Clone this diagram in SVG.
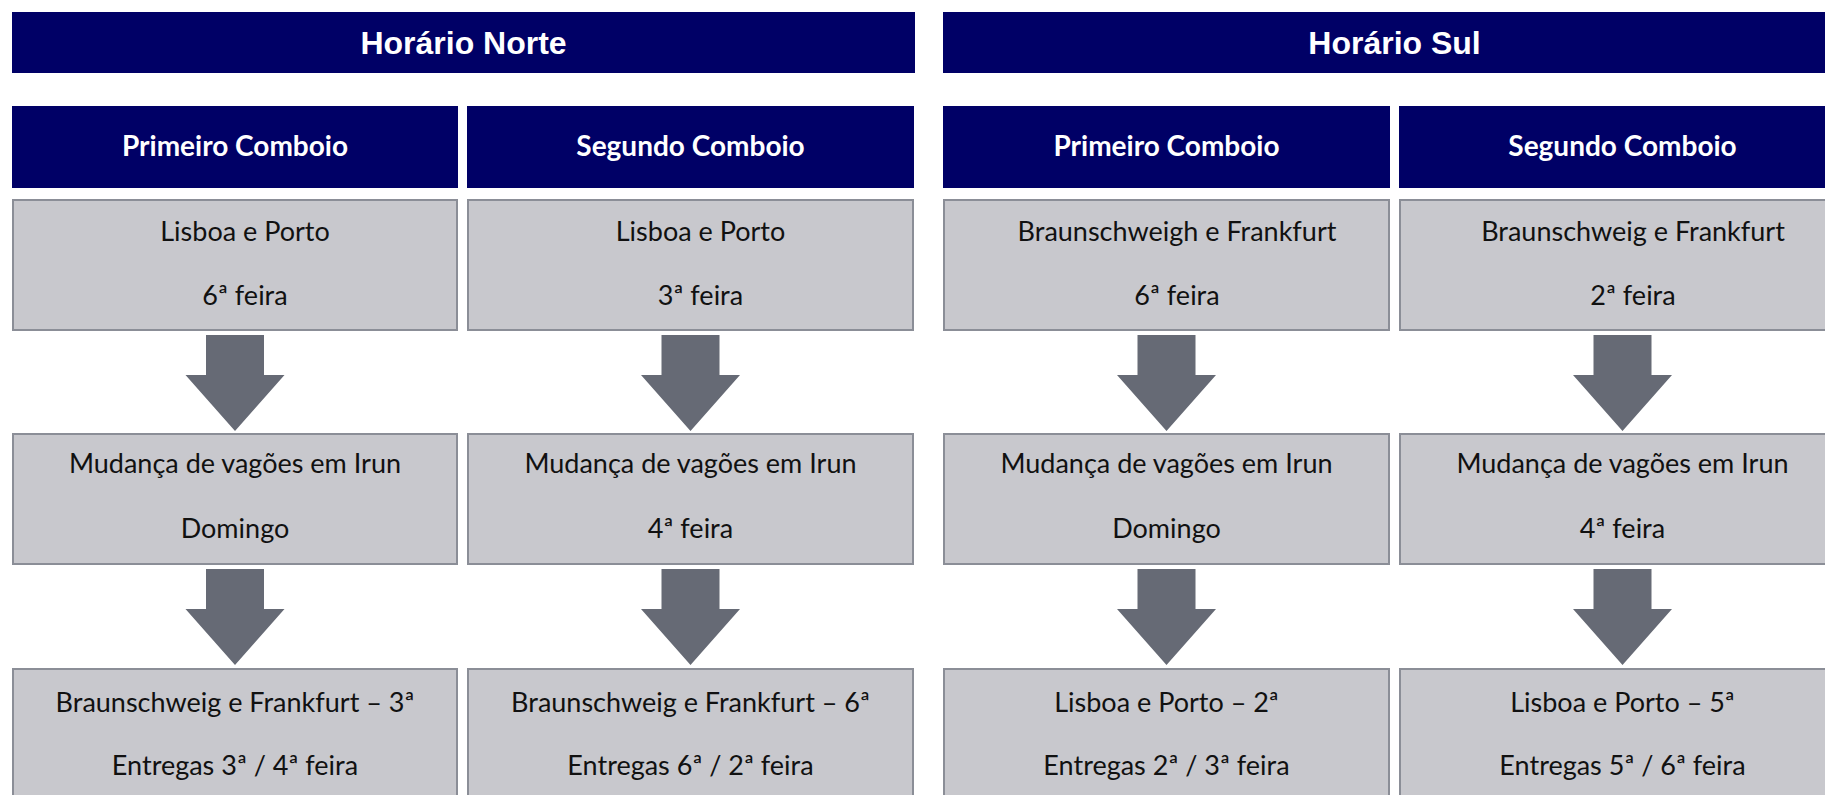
<svg xmlns="http://www.w3.org/2000/svg" width="1825" height="795" viewBox="0 0 1825 795">
<style>
.bar{fill:#000066}
.title{font-family:"Liberation Sans",Arial,sans-serif;font-weight:bold;font-size:32px;fill:#ffffff;text-anchor:middle}
.hdr{font-family:Lato,"Noto Sans",sans-serif;font-weight:bold;font-size:28px;fill:#ffffff;text-anchor:middle}
.box{fill:#c8c8cd;stroke:#8b8e97;stroke-width:2}
.txt{font-family:Lato,"Noto Sans",sans-serif;font-size:27px;fill:#111111;text-anchor:middle}
.arr{fill:#666a75}
</style>
<rect width="1825" height="795" fill="#ffffff"/>
<g id="title-norte"><rect class="bar" x="12" y="12" width="903" height="61"/><text class="title" x="463.5" y="54">Horário Norte</text></g>
<g id="title-sul"><rect class="bar" x="943" y="12" width="903" height="61"/><text class="title" x="1394.5" y="54">Horário Sul</text></g>

<g id="hdr-n1"><rect class="bar" x="12" y="106" width="446" height="82"/><text class="hdr" x="235" y="156">Primeiro Comboio</text></g>
<g id="hdr-n2"><rect class="bar" x="467" y="106" width="447" height="82"/><text class="hdr" x="690.5" y="156">Segundo Comboio</text></g>
<g id="hdr-s1"><rect class="bar" x="943" y="106" width="447" height="82"/><text class="hdr" x="1166.5" y="156">Primeiro Comboio</text></g>
<g id="hdr-s2"><rect class="bar" x="1399" y="106" width="447" height="82"/><text class="hdr" x="1622.5" y="156">Segundo Comboio</text></g>

<g id="n1-a"><rect class="box" x="13" y="200" width="444" height="130"/><text class="txt" x="245" y="241">Lisboa e Porto</text><text class="txt" x="245" y="305">6ª feira</text></g>
<g id="n1-b"><rect class="box" x="13" y="434" width="444" height="130"/><text class="txt" x="235" y="473">Mudança de vagões em Irun</text><text class="txt" x="235" y="538">Domingo</text></g>
<g id="n1-c"><rect class="box" x="13" y="669" width="444" height="130"/><text class="txt" x="235" y="712">Braunschweig e Frankfurt – 3ª</text><text class="txt" x="235" y="775">Entregas 3ª / 4ª feira</text></g>

<g id="n2-a"><rect class="box" x="468" y="200" width="445" height="130"/><text class="txt" x="700.5" y="241">Lisboa e Porto</text><text class="txt" x="700.5" y="305">3ª feira</text></g>
<g id="n2-b"><rect class="box" x="468" y="434" width="445" height="130"/><text class="txt" x="690.5" y="473">Mudança de vagões em Irun</text><text class="txt" x="690.5" y="538">4ª feira</text></g>
<g id="n2-c"><rect class="box" x="468" y="669" width="445" height="130"/><text class="txt" x="690.5" y="712">Braunschweig e Frankfurt – 6ª</text><text class="txt" x="690.5" y="775">Entregas 6ª / 2ª feira</text></g>

<g id="s1-a"><rect class="box" x="944" y="200" width="445" height="130"/><text class="txt" x="1177" y="241">Braunschweigh e Frankfurt</text><text class="txt" x="1177" y="305">6ª feira</text></g>
<g id="s1-b"><rect class="box" x="944" y="434" width="445" height="130"/><text class="txt" x="1166.5" y="473">Mudança de vagões em Irun</text><text class="txt" x="1166.5" y="538">Domingo</text></g>
<g id="s1-c"><rect class="box" x="944" y="669" width="445" height="130"/><text class="txt" x="1166.5" y="712">Lisboa e Porto – 2ª</text><text class="txt" x="1166.5" y="775">Entregas 2ª / 3ª feira</text></g>

<g id="s2-a"><rect class="box" x="1400" y="200" width="445" height="130"/><text class="txt" x="1633" y="241">Braunschweig e Frankfurt</text><text class="txt" x="1633" y="305">2ª feira</text></g>
<g id="s2-b"><rect class="box" x="1400" y="434" width="445" height="130"/><text class="txt" x="1622.5" y="473">Mudança de vagões em Irun</text><text class="txt" x="1622.5" y="538">4ª feira</text></g>
<g id="s2-c"><rect class="box" x="1400" y="669" width="445" height="130"/><text class="txt" x="1622.5" y="712">Lisboa e Porto – 5ª</text><text class="txt" x="1622.5" y="775">Entregas 5ª / 6ª feira</text></g>

<g id="connectors">
<polygon class="arr" points="206,335 264,335 264,375 284.5,375 235,431 185.5,375 206,375"/>
<polygon class="arr" points="206,569 264,569 264,609 284.5,609 235,665 185.5,609 206,609"/>
<polygon class="arr" points="661.5,335 719.5,335 719.5,375 740,375 690.5,431 641,375 661.5,375"/>
<polygon class="arr" points="661.5,569 719.5,569 719.5,609 740,609 690.5,665 641,609 661.5,609"/>
<polygon class="arr" points="1137.5,335 1195.5,335 1195.5,375 1216,375 1166.5,431 1117,375 1137.5,375"/>
<polygon class="arr" points="1137.5,569 1195.5,569 1195.5,609 1216,609 1166.5,665 1117,609 1137.5,609"/>
<polygon class="arr" points="1593.5,335 1651.5,335 1651.5,375 1672,375 1622.5,431 1573,375 1593.5,375"/>
<polygon class="arr" points="1593.5,569 1651.5,569 1651.5,609 1672,609 1622.5,665 1573,609 1593.5,609"/>
</g>
</svg>
